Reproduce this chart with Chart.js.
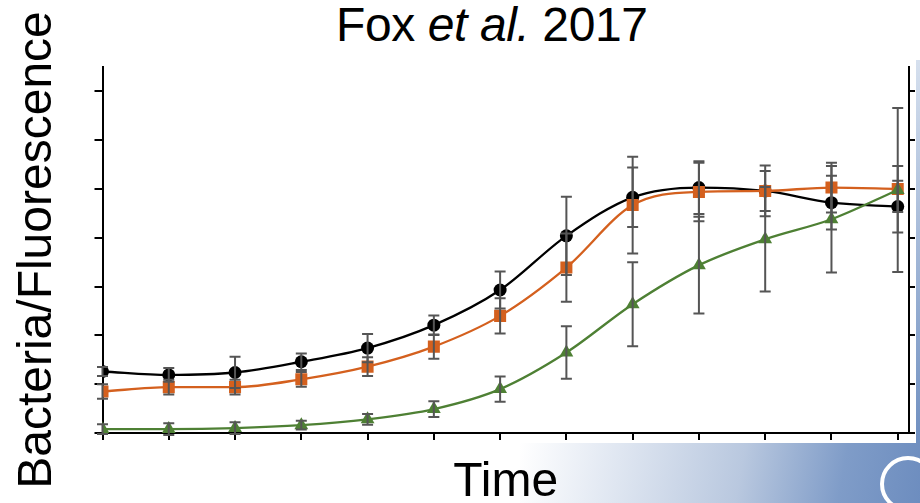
<!DOCTYPE html>
<html>
<head>
<meta charset="utf-8">
<script src="https://cdn.jsdelivr.net/npm/chart.js@4/dist/chart.umd.min.js"></script>
<style>
    body { margin: 0; width: 920px; height: 503px; overflow: hidden; background: #fff; font-family: "Liberation Sans", Arial, sans-serif; }
    #stripRight { position: absolute; left: 916px; top: 60px; width: 4px; height: 383px; background: linear-gradient(to bottom, #d6e0ee, #6f8fc0); }
    #panelBottom { position: absolute; left: 520px; top: 443px; width: 400px; height: 60px;
        background: linear-gradient(100deg, #ffffff 0%, #dfe6f1 25%, #b9c8df 55%, #7f9cc8 80%, #6d8dbf 100%); }
    #logo { position: absolute; left: 880px; top: 456px; width: 56px; height: 56px; border-radius: 50%; border: 4px solid #fff; box-sizing: border-box; }
    #chartTitle { position: absolute; left: 336px; top: 1px; font-size: 48px; line-height: 48px; white-space: nowrap; color: #000; letter-spacing: -0.4px; }
    canvas { position: absolute; left: 0; top: 0; }
</style>
</head>
<body>
<div id="stripRight"></div>
<div id="panelBottom"></div>
<div id="logo"></div>
<div id="chartTitle">Fox <i>et al.</i> 2017</div>
<canvas id="foxChart" width="920" height="503"></canvas>
<script>
// Time points (13 samples)
const timePoints = [0, 1, 2, 3, 4, 5, 6, 7, 8, 9, 10, 11, 12];

// Black circles
const blackValues = [1.26, 1.19, 1.24, 1.46, 1.74, 2.21, 2.93, 4.04, 4.83, 5.03, 4.96, 4.72, 4.64];
const blackErrors = [0.09, 0.14, 0.32, 0.17, 0.29, 0.20, 0.38, 0.80, 0.61, 0.54, 0.52, 0.55, 0.53];

// Orange squares
const orangeValues = [0.85, 0.94, 0.94, 1.10, 1.36, 1.77, 2.40, 3.39, 4.67, 4.94, 4.96, 5.03, 5.00];
const orangeErrors = [0.15, 0.15, 0.15, 0.15, 0.19, 0.25, 0.36, 0.70, 0.99, 0.60, 0.41, 0.51, 0.47];

// Green triangles
const greenValues = [0.08, 0.08, 0.10, 0.16, 0.28, 0.49, 0.90, 1.65, 2.64, 3.44, 3.97, 4.38, 4.98];
const greenErrors = [0.10, 0.12, 0.12, 0.09, 0.11, 0.16, 0.26, 0.54, 0.86, 0.99, 1.07, 1.09, 1.68];

// Build {x, y} points
function toPoints(values) {
    return values.map((v, i) => ({ x: timePoints[i], y: v }));
}

// Error bars drawn on top of the lines
const errorBars = {
    id: 'errorBars',
    afterDatasetsDraw(chart) {
        const ctx = chart.ctx;
        const x = chart.scales.x;
        const y = chart.scales.y;
        ctx.save();
        ctx.strokeStyle = '#555555';
        ctx.lineWidth = 2;
        chart.data.datasets.forEach(ds => {
            ds.errors.forEach((e, i) => {
                const px = x.getPixelForValue(ds.data[i].x);
                const top = y.getPixelForValue(ds.data[i].y + e);
                const bottom = y.getPixelForValue(ds.data[i].y - e);
                ctx.beginPath();
                ctx.moveTo(px, top);
                ctx.lineTo(px, bottom);
                ctx.moveTo(px - 5.5, top);
                ctx.lineTo(px + 5.5, top);
                ctx.moveTo(px - 5.5, bottom);
                ctx.lineTo(px + 5.5, bottom);
                ctx.stroke();
            });
        });
        ctx.restore();
    }
};

const ctx = document.getElementById('foxChart').getContext('2d');

const lineStyle = {
    borderWidth: 2.3,
    cubicInterpolationMode: 'monotone',
    fill: false,
    pointBorderWidth: 0
};

new Chart(ctx, {
    type: 'line',
    data: {
        datasets: [
            Object.assign({
                label: 'Black',
                data: toPoints(blackValues),
                errors: blackErrors,
                borderColor: '#000000',
                pointBackgroundColor: '#000000',
                pointStyle: 'circle',
                pointRadius: 6.5,
                order: 2
            }, lineStyle),
            Object.assign({
                label: 'Orange',
                data: toPoints(orangeValues),
                errors: orangeErrors,
                borderColor: '#d4601e',
                pointBackgroundColor: '#d4601e',
                pointStyle: 'rect',
                pointRadius: 8.5,
                order: 1
            }, lineStyle),
            Object.assign({
                label: 'Green',
                data: toPoints(greenValues),
                errors: greenErrors,
                borderColor: '#4e8034',
                pointBackgroundColor: '#4e8034',
                pointStyle: 'triangle',
                pointRadius: 8,
                order: 0
            }, lineStyle)
        ]
    },
    options: {
        responsive: false,
        animation: false,
        devicePixelRatio: 1,
        layout: { padding: { top: 67, left: 0, right: 5, bottom: 0 } },
        plugins: {
            legend: { display: false },
            title: { display: false },
            tooltip: { enabled: false }
        },
        scales: {
            x: {
                type: 'linear',
                min: 0,
                max: 12.17,
                ticks: { display: false, stepSize: 1, includeBounds: false },
                grid: { drawOnChartArea: false, tickLength: 7, tickColor: '#000', lineWidth: 2 },
                border: { color: '#000', width: 2 },
                title: {
                    display: true,
                    text: 'Time',
                    color: '#000',
                    font: { family: 'Liberation Sans', size: 48, lineHeight: 0.8333 },
                    padding: { top: 23, bottom: 0 }
                }
            },
            y: {
                position: 'left',
                min: 0,
                max: 7.5,
                ticks: { display: false, stepSize: 1, includeBounds: false },
                grid: { drawOnChartArea: false, tickLength: 8, tickColor: '#000', lineWidth: 2 },
                border: { color: '#000', width: 2 },
                title: {
                    display: true,
                    text: 'Bacteria/Fluorescence',
                    color: '#000',
                    font: { family: 'Liberation Sans', size: 48, lineHeight: 1 },
                    padding: { top: 13.5, bottom: 33 }
                }
            },
            y2: {
                position: 'right',
                min: 0,
                max: 7.5,
                ticks: { display: false, stepSize: 1, includeBounds: false },
                grid: { drawOnChartArea: false, tickLength: 6, tickColor: '#000', lineWidth: 2 },
                border: { color: '#000', width: 2 }
            }
        }
    },
    plugins: [errorBars]
});
</script>
</body>
</html>
